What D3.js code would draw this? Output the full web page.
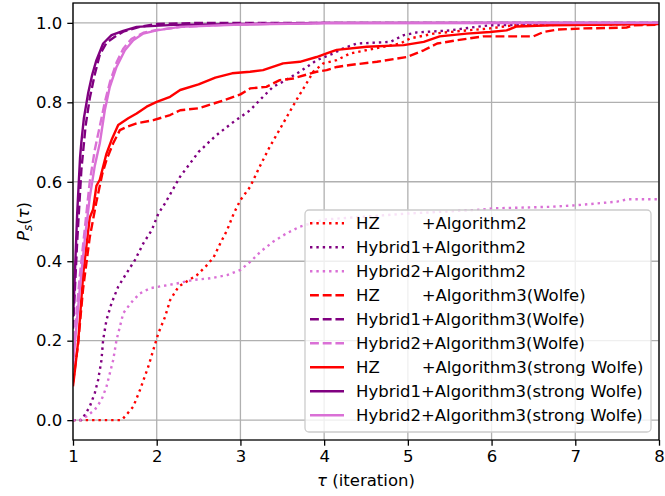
<!DOCTYPE html>
<html><head><meta charset="utf-8">
<script src="https://cdn.jsdelivr.net/npm/d3@7"></script>
<style>body{margin:0;background:#fff}svg text{font-family:"DejaVu Sans",sans-serif}</style>
</head><body><svg id="c" width="665" height="496"></svg>
<script>
// ---- data (tau, P_s(tau)) ----
const xTicks = [1,2,3,4,5,6,7,8];
const yTicks = [0.0,0.2,0.4,0.6,0.8,1.0];
const hzAlg2 = [[1,0],[1.58,0],[1.62,0.009],[1.72,0.034],[1.80,0.076],[1.90,0.135],[1.96,0.177],[2.02,0.219],[2.10,0.26],[2.16,0.302],[2.26,0.336],[2.32,0.344],[2.48,0.365],[2.60,0.39],[2.68,0.41],[2.76,0.445],[2.84,0.478],[2.92,0.52],[3.0,0.554],[3.115,0.587],[3.23,0.638],[3.35,0.688],[3.51,0.747],[3.67,0.806],[3.79,0.848],[3.87,0.877],[3.99,0.898],[4.15,0.906],[4.31,0.923],[4.71,0.94],[4.91,0.948],[5.03,0.961],[5.31,0.973],[5.70,0.981],[5.98,0.986],[6.26,0.994],[8,0.997]];
const h1Alg2 = [[1,0],[1.10,0],[1.14,0.013],[1.20,0.034],[1.26,0.068],[1.30,0.101],[1.34,0.151],[1.36,0.202],[1.40,0.252],[1.46,0.294],[1.54,0.336],[1.64,0.37],[1.74,0.403],[1.84,0.445],[1.94,0.478],[2.02,0.52],[2.10,0.546],[2.28,0.613],[2.5,0.675],[2.7,0.715],[2.9,0.748],[3.115,0.78],[3.27,0.814],[3.39,0.839],[3.51,0.852],[3.71,0.877],[3.91,0.906],[4.11,0.923],[4.23,0.936],[4.39,0.948],[4.79,0.952],[4.95,0.969],[5.11,0.976],[5.50,0.981],[5.82,0.99],[5.98,0.994],[8,0.998]];
const h2Alg2 = [[1,0],[1.08,0],[1.16,0.009],[1.26,0.026],[1.34,0.051],[1.40,0.084],[1.44,0.118],[1.48,0.151],[1.52,0.202],[1.56,0.235],[1.60,0.269],[1.66,0.286],[1.72,0.302],[1.80,0.319],[1.92,0.332],[2.08,0.338],[2.24,0.344],[2.44,0.353],[2.64,0.357],[2.84,0.365],[3.0,0.378],[3.12,0.399],[3.24,0.424],[3.39,0.449],[3.55,0.47],[3.71,0.487],[4.0,0.505],[5.0,0.52],[5.9,0.53],[6.02,0.533],[6.70,0.537],[7.02,0.541],[7.50,0.55],[7.62,0.556],[8,0.556]];
const hzWolfe = [[1,0.095],[1.06,0.19],[1.12,0.33],[1.2,0.46],[1.28,0.55],[1.35,0.62],[1.40,0.655],[1.48,0.697],[1.56,0.73],[1.64,0.738],[1.76,0.747],[1.96,0.755],[2.16,0.768],[2.28,0.78],[2.5,0.785],[2.8,0.805],[3.0,0.82],[3.115,0.835],[3.31,0.839],[3.47,0.856],[3.63,0.86],[3.91,0.877],[4.03,0.881],[4.15,0.889],[4.31,0.894],[4.63,0.902],[4.99,0.914],[5.19,0.931],[5.35,0.948],[5.58,0.956],[5.90,0.966],[6.50,0.966],[6.62,0.977],[6.78,0.983],[7.10,0.986],[7.61,0.988],[7.69,0.994],[8,0.995]];
const h1Wolfe = [[1,0.23],[1.05,0.45],[1.1,0.63],[1.15,0.74],[1.2,0.81],[1.26,0.87],[1.32,0.92],[1.4,0.95],[1.5,0.965],[1.6,0.978],[1.8,0.99],[2.0,0.997],[2.5,1.0],[8,1.0]];
const h2Wolfe = [[1,0.17],[1.08,0.36],[1.14,0.48],[1.2,0.6],[1.26,0.68],[1.32,0.74],[1.38,0.80],[1.44,0.85],[1.52,0.90],[1.6,0.935],[1.7,0.96],[1.84,0.975],[2.0,0.982],[2.3,0.99],[3,0.997],[4,1.0],[8,1.0]];
const hzStrong = [[1,0.085],[1.02,0.12],[1.063,0.2],[1.123,0.37],[1.2,0.51],[1.24,0.53],[1.28,0.59],[1.32,0.605],[1.40,0.671],[1.46,0.705],[1.54,0.743],[1.66,0.76],[1.76,0.772],[1.88,0.789],[2.0,0.801],[2.16,0.814],[2.28,0.831],[2.5,0.845],[2.7,0.862],[2.9,0.873],[3.115,0.877],[3.27,0.881],[3.51,0.898],[3.71,0.902],[3.91,0.914],[4.03,0.923],[4.15,0.932],[4.51,0.94],[4.95,0.944],[5.19,0.952],[5.38,0.966],[5.70,0.973],[5.98,0.977],[6.18,0.981],[6.30,0.991],[6.70,0.994],[8,0.997]];
const h1Strong = [[1,0.26],[1.01,0.3],[1.05,0.52],[1.084,0.66],[1.10,0.70],[1.13,0.76],[1.18,0.822],[1.23,0.87],[1.28,0.906],[1.36,0.948],[1.46,0.969],[1.6,0.98],[1.76,0.99],[2.2,0.995],[3.2,0.997],[4,1.0],[8,1.0]];
const h2Strong = [[1,0.14],[1.08,0.327],[1.14,0.453],[1.20,0.56],[1.26,0.64],[1.32,0.697],[1.38,0.78],[1.44,0.839],[1.52,0.889],[1.62,0.931],[1.72,0.956],[1.84,0.973],[2.0,0.981],[2.28,0.99],[3,0.996],[4,0.999],[8,1.0]];
const labels = ["HZ        +Algorithm2","Hybrid1+Algorithm2","Hybrid2+Algorithm2","HZ        +Algorithm3(Wolfe)","Hybrid1+Algorithm3(Wolfe)","Hybrid2+Algorithm3(Wolfe)","HZ        +Algorithm3(strong Wolfe)","Hybrid1+Algorithm3(strong Wolfe)","Hybrid2+Algorithm3(strong Wolfe)"];
const seriesData = [hzAlg2,h1Alg2,h2Alg2,hzWolfe,h1Wolfe,h2Wolfe,hzStrong,h1Strong,h2Strong];
const colors = ["#ff0000","#800080","#da70d6"];
const styles = ["dotted","dashed","solid"];

// ---- drawing ----
const svg = d3.select("#c");
const L=73, R=659, T=3, B=440;
const FS = 16.5;
const x = d3.scaleLinear().domain([1,8]).range([L,R]);
const y = d3.scaleLinear().domain([-0.05,1.05]).range([B,T]);
const lw = 2.4;
const dash = {dotted:`${lw} ${1.65*lw}`, dashed:`${3.7*lw} ${1.6*lw}`, solid:null};

svg.append("defs").append("clipPath").attr("id","clip").append("rect")
  .attr("x",L).attr("y",T).attr("width",R-L).attr("height",B-T);

// grid
const g = svg.append("g");
g.selectAll(".gx").data(xTicks).join("line").attr("x1",d=>x(d)).attr("x2",d=>x(d)).attr("y1",T).attr("y2",B)
  .attr("stroke","#b0b0b0").attr("stroke-width",1.3);
g.selectAll(".gy").data(yTicks).join("line").attr("y1",d=>y(d)).attr("y2",d=>y(d)).attr("x1",L).attr("x2",R)
  .attr("stroke","#b0b0b0").attr("stroke-width",1.3);

// lines
const line = d3.line().x(d=>x(d[0])).y(d=>y(d[1]));
const lg = svg.append("g").attr("clip-path","url(#clip)");
seriesData.forEach((s,i)=>{
  lg.append("path").attr("d",line(s)).attr("fill","none")
    .attr("stroke",colors[i%3]).attr("stroke-width",lw)
    .attr("stroke-dasharray",dash[styles[Math.floor(i/3)]]).attr("stroke-linejoin","round").attr("stroke-linecap","butt");
});

// axes
const xa = svg.append("g").attr("transform",`translate(0,${B})`)
  .call(d3.axisBottom(x).tickValues(xTicks).tickFormat(d3.format("d")).tickSize(5.7).tickPadding(5));
const ya = svg.append("g").attr("transform",`translate(${L},0)`)
  .call(d3.axisLeft(y).tickValues(yTicks).tickFormat(d3.format(".1f")).tickSize(5.7).tickPadding(5));
[xa,ya].forEach(a=>{a.select(".domain").remove();
  a.selectAll("line").attr("stroke","#000").attr("stroke-width",1.3);
  a.selectAll("text").attr("font-size",FS).attr("fill","#000").attr("font-family","DejaVu Sans");});
// spines
svg.append("rect").attr("x",L).attr("y",T).attr("width",R-L).attr("height",B-T)
  .attr("fill","none").attr("stroke","#000").attr("stroke-width",1.3);

// axis labels
const xl = svg.append("text").attr("x",(L+R)/2).attr("y",486).attr("text-anchor","middle").attr("font-size",FS);
xl.append("tspan").attr("font-style","italic").text("τ");
xl.append("tspan").text(" (iteration)");
const yl = svg.append("text").attr("transform",`translate(29,${(T+B)/2}) rotate(-90)`).attr("text-anchor","middle").attr("font-size",FS);
yl.append("tspan").attr("font-style","italic").text("P");
yl.append("tspan").attr("font-style","italic").attr("font-size",11.8).attr("dy",3).text("s");
yl.append("tspan").attr("dy",-3).text("(");
yl.append("tspan").attr("font-style","italic").text("τ");
yl.append("tspan").text(")");

// legend
const leg = svg.append("g");
leg.append("rect").attr("x",305).attr("y",210).attr("width",346).attr("height",222).attr("rx",4)
  .attr("fill","#fff").attr("fill-opacity",0.8).attr("stroke","#cccccc").attr("stroke-width",1.3);
labels.forEach((lab,i)=>{
  const cy = 223.3 + i*24;
  leg.append("line").attr("x1",310).attr("x2",344).attr("y1",cy).attr("y2",cy)
    .attr("stroke",colors[i%3]).attr("stroke-width",lw).attr("stroke-dasharray",dash[styles[Math.floor(i/3)]]);
  leg.append("text").attr("x",356).attr("y",cy+6).attr("font-size",FS).style("white-space","pre").text(lab);
});
</script></body></html>
